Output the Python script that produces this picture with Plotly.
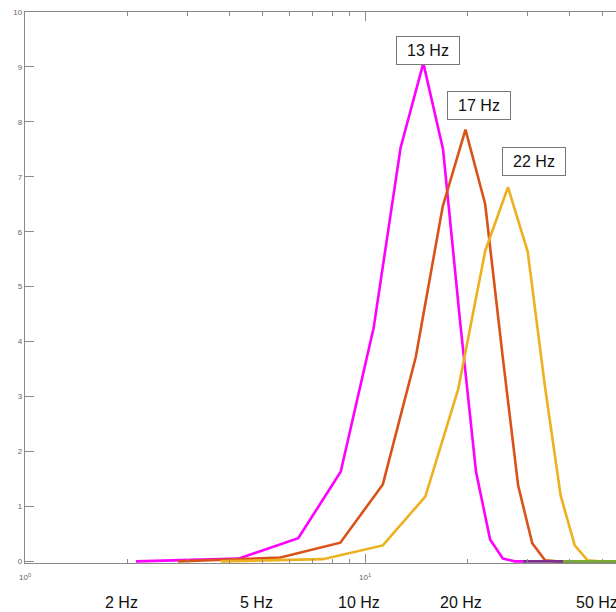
import plotly.graph_objects as go
import math

# ---------------- data ----------------
freq_13 = [2.12, 4.24, 6.36, 8.48, 10.6, 12.72, 14.84, 16.96, 19.08, 21.2, 23.32, 25.44, 27.56, 29.68]
amp_13 = [0, 0.05, 0.42, 1.63, 4.25, 7.53, 9.07, 7.50, 4.30, 1.63, 0.40, 0.05, 0, 0]

freq_17 = [2.82, 5.64, 8.46, 11.28, 14.1, 16.92, 19.74, 22.56, 25.38, 28.2, 31.02, 33.84, 36.66, 39.48]
amp_17 = [0, 0.07, 0.34, 1.40, 3.72, 6.46, 7.86, 6.50, 3.74, 1.38, 0.33, 0.02, 0, 0]

freq_22 = [3.76, 7.52, 11.28, 15.04, 18.8, 22.56, 26.32, 30.08, 33.84, 37.6, 41.36, 45.12, 48.88, 52.64, 56.4]
amp_22 = [0, 0.04, 0.29, 1.18, 3.14, 5.65, 6.81, 5.64, 3.17, 1.20, 0.29, 0.02, 0, 0, 0]

freq_a = [29.2, 60.0]
amp_a = [0, 0]
freq_b = [38.2, 60.0]
amp_b = [0, 0]

peak_labels = ["13 Hz", "17 Hz", "22 Hz"]
peak_label_pos = [(15.3, 9.30), (21.7, 8.30), (31.4, 7.27)]

bottom_label_freqs = [2, 5, 10, 20, 50]
bottom_labels = ["2 Hz", "5 Hz", "10 Hz", "20 Hz", "50 Hz"]

major_x_ticks = [1, 10]
major_x_text = ["10<sup>0</sup>", "10<sup>1</sup>"]
minor_x_ticks = [2, 3, 4, 5, 6, 7, 8, 9, 20, 30, 40, 50]
y_ticks = [0, 1, 2, 3, 4, 5, 6, 7, 8, 9, 10]

colors = ["#FF00FF", "#D95319", "#EDB120", "#7E2F8E", "#77AC30"]

# ---------------- figure ----------------
fig = go.Figure()
series = [(freq_13, amp_13), (freq_17, amp_17), (freq_22, amp_22), (freq_a, amp_a), (freq_b, amp_b)]
for (fx, fy), c in zip(series, colors):
    fig.add_trace(go.Scatter(x=fx, y=fy, mode="lines",
                             line=dict(color=c, width=2.6), showlegend=False,
                             hoverinfo="skip"))

axis_grey = "#8a8a8a"
label_grey = "#666666"

annotations = []
for txt, (fx, fy) in zip(peak_labels, peak_label_pos):
    annotations.append(dict(
        x=math.log10(fx), y=fy, xref="x", yref="y", text=txt, showarrow=False,
        font=dict(family="Liberation Sans, Arial", size=16, color="#111111"),
        bordercolor="#777777", borderwidth=1, borderpad=2, bgcolor="white",
        width=58, height=23, align="center", xanchor="center", yanchor="middle"))

for f, txt in zip(bottom_label_freqs, bottom_labels):
    annotations.append(dict(
        x=math.log10(f), y=-0.0708, xref="x", yref="paper", text=txt,
        showarrow=False, xshift=-6,
        font=dict(family="Liberation Sans, Arial", size=16, color="#111111"),
        xanchor="center", yanchor="middle"))

fig.update_layout(
    width=616, height=612,
    margin=dict(l=25, r=0, t=12, b=49, pad=0),
    paper_bgcolor="white", plot_bgcolor="white",
    annotations=annotations,
    xaxis=dict(
        type="log", range=[0, 1.738],
        showgrid=False, zeroline=False,
        showline=True, linecolor=axis_grey, linewidth=1.3, mirror="ticks",
        ticks="inside", ticklen=9, tickcolor=axis_grey, tickwidth=1,
        tickmode="array", tickvals=major_x_ticks, ticktext=major_x_text,
        tickfont=dict(family="Liberation Sans, Arial", size=8, color=label_grey),
        ticklabelstandoff=6,
        minor=dict(tickmode="array", tickvals=minor_x_ticks, ticks="inside",
                   ticklen=4, tickcolor=axis_grey, tickwidth=1, showgrid=False),
    ),
    yaxis=dict(
        range=[-0.03, 10], showgrid=False, zeroline=False,
        showline=True, linecolor=axis_grey, linewidth=1.3, mirror=False,
        ticks="inside", ticklen=9, tickcolor=axis_grey, tickwidth=1,
        tickmode="array", tickvals=y_ticks,
        tickfont=dict(family="Liberation Sans, Arial", size=8, color=label_grey),
    ),
)

fig.write_html(
    "out.html",
    config={"displayModeBar": False, "staticPlot": True},
    post_script="document.body.style.margin='0';document.body.style.overflow='hidden';",
)
